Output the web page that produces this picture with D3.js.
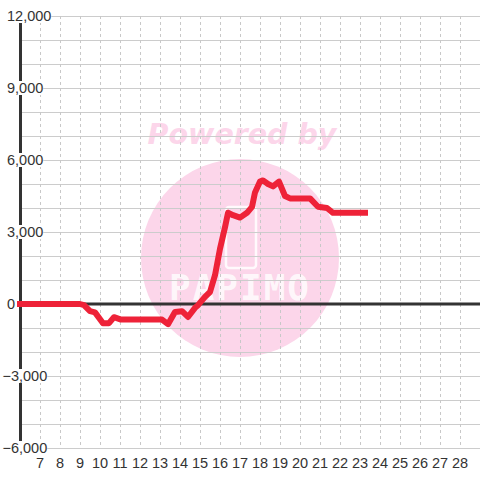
<!DOCTYPE html>
<html>
<head>
<meta charset="utf-8">
<script src="https://cdn.jsdelivr.net/npm/d3@7"></script>
<style>
  html, body { margin: 0; padding: 0; background: #fff; }
  svg { display: block; font-family: "Liberation Sans", Arial, sans-serif; }
</style>
</head>
<body>
<script>
// hour of day (past midnight runs on as 25, 26 ...)
const hours = [6, 9.0, 9.2, 9.5, 9.75, 10.15, 10.45, 10.7, 11.05, 13.1, 13.4, 13.75, 14.1, 14.4, 14.75, 14.9,
  15.25, 15.5, 15.75, 16.0, 16.25, 16.4, 16.65, 17.0, 17.35, 17.6, 17.75, 18.0, 18.15, 18.4, 18.65, 18.95,
  19.25, 19.5, 20.5, 20.9, 21.35, 21.65, 23.25];
const values = [0, 0, -50, -300, -350, -800, -800, -550, -650, -650, -840, -330, -300, -540, -160, -50,
  300, 500, 1200, 2300, 3200, 3800, 3700, 3600, 3800, 4050, 4650, 5100, 5150, 5000, 4900, 5100,
  4500, 4400, 4400, 4050, 4000, 3800, 3800];
const hourTicks = d3.range(7, 29);
const valueTicks = [-6000, -3000, 0, 3000, 6000, 9000, 12000];
const minorTicks = d3.range(-6000, 12001, 1000);

const width = 480, height = 480;

const x = d3.scaleLinear().domain([6, 29]).range([20, 480]);
const y = d3.scaleLinear().domain([-6000, 12000]).range([448, 16]);

const svg = d3.select("body").append("svg")
    .attr("width", width)
    .attr("height", height);

// watermark
const mark = svg.append("g");
mark.append("circle")
    .attr("cx", 240).attr("cy", 258).attr("r", 99)
    .attr("fill", "#fcd6ea");
mark.append("text")
    .attr("x", 242).attr("y", 144)
    .attr("text-anchor", "middle")
    .attr("font-size", 28.5)
    .attr("font-weight", "bold")
    .attr("font-style", "italic")
    .attr("font-family", "DejaVu Sans, sans-serif")
    .attr("fill", "#fcd6ea")
    .text("Powered by");
mark.append("rect")
    .attr("x", 226).attr("y", 207).attr("width", 30).attr("height", 61).attr("rx", 3)
    .attr("fill", "none").attr("stroke", "#fff").attr("stroke-width", 2.5).attr("opacity", 0.85);
mark.append("text")
    .attr("x", 240).attr("y", 300)
    .attr("text-anchor", "middle")
    .attr("font-size", 36)
    .attr("font-weight", "bold")
    .attr("font-family", "DejaVu Sans Mono, monospace")
    .attr("letter-spacing", 2)
    .attr("fill", "#fff").attr("opacity", 0.8)
    .text("PAPIMO");

// grid
svg.append("g")
    .attr("stroke", "#cccccc")
    .attr("stroke-width", 1)
    .selectAll("line")
    .data(minorTicks)
    .join("line")
    .attr("x1", 20).attr("x2", 480)
    .attr("y1", d => Math.round(y(d)) + 0.5)
    .attr("y2", d => Math.round(y(d)) + 0.5);

svg.append("g")
    .attr("stroke", "#c8c8c8")
    .attr("stroke-width", 1)
    .attr("stroke-dasharray", "3,3")
    .selectAll("line")
    .data(hourTicks)
    .join("line")
    .attr("x1", d => Math.round(x(d)) + 0.5).attr("x2", d => Math.round(x(d)) + 0.5)
    .attr("y1", y(12000)).attr("y2", y(-6000));

// axis and zero line
svg.append("line")
    .attr("x1", 20.5).attr("x2", 20.5)
    .attr("y1", y(12000)).attr("y2", y(-6000))
    .attr("stroke", "#333").attr("stroke-width", 3);
svg.append("line")
    .attr("x1", 20).attr("x2", 480)
    .attr("y1", y(0)).attr("y2", y(0))
    .attr("stroke", "#333").attr("stroke-width", 3);

// y labels with white backing
const fmt = d3.format(",");
const yLab = svg.append("g").selectAll("g")
    .data(valueTicks)
    .join("g");
yLab.append("text")
    .attr("x", d => d < 0 ? 2.5 : 7)
    .attr("y", d => y(d) + 5)
    .attr("font-size", 14.5)
    .attr("fill", "#333")
    .text(d => fmt(d));
yLab.each(function() {
    const g = d3.select(this);
    const b = g.select("text").node().getBBox();
    g.insert("rect", "text")
        .attr("x", b.x).attr("y", b.y + 1)
        .attr("width", b.width).attr("height", b.height - 2)
        .attr("fill", "#fff");
});

// x labels
svg.append("g").selectAll("text")
    .data(hourTicks)
    .join("text")
    .attr("x", d => x(d))
    .attr("y", 467.5)
    .attr("text-anchor", "middle")
    .attr("font-size", 14.5)
    .attr("fill", "#333")
    .text(d => d);

// series
const line = d3.line()
    .x((d, i) => x(hours[i]))
    .y(d => y(d));

svg.append("path")
    .datum(values)
    .attr("d", line)
    .attr("fill", "none")
    .attr("stroke", "#ee2238")
    .attr("stroke-width", 6)
    .attr("stroke-linejoin", "round")
    .attr("stroke-linecap", "square");
</script>
</body>
</html>
